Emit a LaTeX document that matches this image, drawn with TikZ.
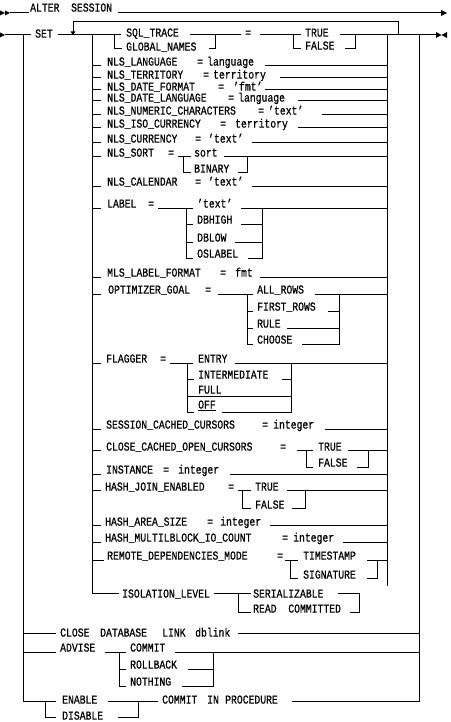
\documentclass[tikz,border=0pt]{standalone}
\usepackage{fontspec}
\usepackage{graphicx}
\newfontfamily\rrfont{Liberation Mono}[FakeBold=0.8]
\newcommand\tx[4]{\node[txt] (#1) at (#2,#3+3.6) {\scalebox{1}[1.25]{#4}};}
\newcommand\railH[3]{\draw[rail] (#2,#1) -- (#3,#1);}
\newcommand\railV[3]{\draw[rail] (#1,#2) -- (#1,#3);}
\begin{document}
\begin{tikzpicture}[x=1pt,y=-1pt,
  rail/.style={line width=1pt,line cap=rect},
  txt/.style={anchor=base west,inner sep=0pt,font={\rrfont\fontsize{9.75pt}{10pt}\selectfont}},
  tip/.style={fill=black,draw=none}]
\fill[white] (0,0) rectangle (450,722);
\useasboundingbox (0,0) rectangle (450,722);
% ---- ALTER SESSION
\fill[tip] (0,10.5)--(5,13)--(0,15.5)--cycle;
\fill[tip] (5,10.5)--(10,13)--(5,15.5)--cycle;
\railH{13}{10}{28}
\tx{alter}{30}{8}{ALTER\ \ SESSION}
\railH{13}{118}{441}
\fill[tip] (441,10)--(447,13)--(441,16)--cycle;
% ---- SET row
\fill[tip] (0,32.5)--(5,35)--(0,37.5)--cycle;
\railH{35}{5}{30}
\tx{set}{35}{34}{SET}
\railH{35}{58}{120}
\railV{23}{35}{701}
\railV{92}{35}{593}
\railV{73}{22}{32}
\fill[tip] (70.5,31.5)--(75.5,31.5)--(73,35)--cycle;
\railH{22}{73}{398}
\railV{398}{22}{35}
\tx{sqltrace}{126}{33}{SQL\_TRACE}
\railH{35}{190}{240}
\tx{eqA}{245}{33}{=}
\railH{35}{260}{300}
\tx{trueA}{305}{33}{TRUE}
\railH{35}{340}{436}
\fill[tip] (436,32)--(441.5,35)--(436,38)--cycle;
\fill[tip] (447,32)--(441.5,35)--(447,38)--cycle;
\railV{114}{35}{49}\railH{49}{114}{121}
\tx{globalnames}{126}{47}{GLOBAL\_NAMES}
\railH{49}{209}{215}\railV{215}{35}{49}
\railV{293}{35}{49}\railH{49}{293}{300}
\tx{falseA}{305}{46}{FALSE}
\railH{49}{345}{355}\railV{355}{35}{49}
\railV{387}{35}{585}
\railV{419}{35}{701}
% ---- NLS rows
\railH{66}{92}{100}\tx{nlslang}{107}{62}{NLS\_LANGUAGE}\tx{eqB}{197}{62}{=}\tx{language}{207}{62}{language}\railH{66}{265}{387}
\railH{78}{92}{100}\tx{nlsterr}{107}{75}{NLS\_TERRITORY}\tx{eqC}{203}{75}{=}\tx{territory}{213}{75}{territory}\railH{78}{280}{387}
\railH{90}{92}{100}\tx{nlsdf}{107}{87}{NLS\_DATE\_FORMAT}\tx{eqD}{218}{87}{=}\tx{fmtA}{233}{87}{’fmt’}\railH{90}{265}{387}
\railH{101}{92}{100}\tx{nlsdl}{107}{98}{NLS\_DATE\_LANGUAGE}\tx{eqE}{228}{98}{=}\tx{languageB}{238}{98}{language}\railH{101}{298}{387}
\railH{115}{92}{100}\tx{nlsnum}{107}{111}{NLS\_NUMERIC\_CHARACTERS}\tx{eqF}{258}{111}{=}\tx{textA}{268}{111}{’text’}\railH{115}{322}{387}
\railH{128}{92}{100}\tx{nlsiso}{107}{124}{NLS\_ISO\_CURRENCY}\tx{eqG}{220}{124}{=}\tx{territoryB}{235}{124}{territory}\railH{128}{298}{387}
\railH{143}{92}{100}\tx{nlscur}{107}{139}{NLS\_CURRENCY}\tx{eqH}{195}{139}{=}\tx{textB}{208}{139}{’text’}\railH{143}{252}{387}
% NLS_SORT
\railH{157}{92}{100}\tx{nlssort}{107}{153}{NLS\_SORT}\tx{eqI}{168}{153}{=}\railH{157}{178}{190}
\railV{183}{157}{173}\tx{sort}{194}{153}{sort}\railH{157}{224}{387}
\railH{173}{183}{190}\tx{binary}{194}{169}{BINARY}\railH{173}{238}{247}\railV{247}{157}{173}
\railH{186}{92}{100}\tx{nlscal}{107}{182}{NLS\_CALENDAR}\tx{eqJ}{195}{182}{=}\tx{textC}{208}{182}{’text’}\railH{186}{252}{387}
% LABEL
\railH{208}{92}{100}\tx{label}{107}{204}{LABEL}\tx{eqK}{148}{204}{=}\railH{208}{158}{192}
\railV{186}{208}{258}\tx{textD}{197}{204}{’text’}\railH{208}{241}{387}
\railH{224}{186}{192}\tx{dbhigh}{197}{220}{DBHIGH}\railH{224}{241}{262}
\railH{242}{186}{192}\tx{dblow}{197}{238}{DBLOW}\railH{242}{235}{262}
\railH{258}{186}{192}\tx{oslabel}{197}{254}{OSLABEL}\railH{258}{248}{262}
\railV{262}{208}{258}
\railH{277}{92}{100}\tx{mls}{107}{273}{MLS\_LABEL\_FORMAT}\tx{eqL}{220}{273}{=}\tx{fmtB}{235}{273}{fmt}\railH{277}{260}{387}
% OPTIMIZER_GOAL
\railH{294}{92}{100}\tx{optgoal}{108}{290}{OPTIMIZER\_GOAL}\tx{eqM}{205}{290}{=}\railH{294}{218}{252}
\railV{247}{294}{344}\tx{allrows}{257}{290}{ALL\_ROWS}\railH{294}{315}{387}
\railH{311}{247}{252}\tx{firstrows}{257}{307}{FIRST\_ROWS}\railH{311}{328}{339}
\railH{328}{247}{252}\tx{rule}{257}{324}{RULE}\railH{328}{287}{339}
\railH{344}{247}{252}\tx{choose}{257}{340}{CHOOSE}\railH{344}{302}{339}
\railV{339}{294}{344}
% FLAGGER
\railH{363}{92}{100}\tx{flagger}{106}{359}{FLAGGER}\tx{eqN}{160}{359}{=}\railH{363}{170}{192}
\railV{187}{363}{412}\tx{entry}{198}{359}{ENTRY}\railH{363}{235}{387}
\railH{379}{187}{193}\tx{intermediate}{198}{375}{INTERMEDIATE}\railH{379}{282}{291}
\tx{full}{198}{390}{FULL}\railH{396}{187}{291}
\railH{412}{187}{193}\tx{off}{198}{405}{\underline{OFF}}\railH{412}{222}{291}
\railV{291}{363}{412}
% SESSION_CACHED_CURSORS
\railH{429}{92}{100}\tx{scc}{106}{425}{SESSION\_CACHED\_CURSORS}\tx{eqO}{262}{425}{=}\tx{integerA}{273}{425}{integer}\railH{429}{325}{387}
% CLOSE_CACHED_OPEN_CURSORS
\railH{450}{92}{100}\tx{ccoc}{106}{447}{CLOSE\_CACHED\_OPEN\_CURSORS}\tx{eqP}{280}{447}{=}\railH{450}{297}{312}
\railV{306}{450}{467}\tx{trueB}{318}{447}{TRUE}\railH{450}{348}{387}
\railH{467}{306}{312}\tx{falseB}{318}{463}{FALSE}\railH{467}{357}{368}\railV{368}{450}{467}
% INSTANCE
\railH{474}{92}{100}\tx{instance}{106}{470}{INSTANCE}\tx{eqQ}{163}{470}{=}\tx{integerB}{178}{470}{integer}\railH{474}{230}{387}
% HASH_JOIN_ENABLED
\railH{490}{92}{100}\tx{hje}{105}{487}{HASH\_JOIN\_ENABLED}\tx{eqR}{228}{487}{=}\railH{490}{238}{250}
\railV{242}{490}{508}\tx{trueC}{255}{487}{TRUE}\railH{490}{287}{387}
\railH{508}{242}{250}\tx{falseC}{255}{505}{FALSE}\railH{508}{292}{305}\railV{305}{490}{508}
\railH{525}{92}{100}\tx{has}{105}{522}{HASH\_AREA\_SIZE}\tx{eqS}{207}{522}{=}\tx{integerC}{220}{522}{integer}\railH{525}{270}{387}
\railH{542}{92}{100}\tx{hmb}{105}{538}{HASH\_MULTILBLOCK\_IO\_COUNT}\tx{eqT}{282}{538}{=}\tx{integerD}{293}{538}{integer}\railH{542}{343}{387}
% REMOTE
\railH{560}{92}{103}\tx{rdm}{107}{556}{REMOTE\_DEPENDENCIES\_MODE}\tx{eqU}{277}{556}{=}\railH{560}{285}{297}
\railV{290}{560}{578}\tx{timestamp}{303}{556}{TIMESTAMP}\railH{560}{367}{387}
\railH{578}{290}{297}\tx{signature}{303}{575}{SIGNATURE}\railH{578}{367}{377}\railV{377}{560}{578}
% ISOLATION_LEVEL
\railH{593}{92}{118}\tx{isolation}{122}{594}{ISOLATION\_LEVEL}\railH{593}{214}{250}
\railV{238}{593}{612}\tx{serializable}{253}{594}{SERIALIZABLE}\railH{593}{338}{359}
\railH{612}{238}{250}\tx{readcommitted}{253}{609}{READ\ \ COMMITTED}\railH{612}{350}{359}\railV{359}{593}{612}
% CLOSE DATABASE LINK
\railH{633}{23}{55}\tx{close}{60}{633}{CLOSE}\tx{database}{100}{633}{DATABASE}\tx{link}{162}{633}{LINK}\tx{dblink}{195}{633}{dblink}\railH{633}{238}{419}
% ADVISE
\railH{652}{23}{55}\tx{advise}{60}{648}{ADVISE}\railH{652}{105}{125}
\railV{119}{652}{686}\tx{commitA}{130}{648}{COMMIT}\railH{652}{175}{419}
\railH{669}{119}{125}\tx{rollback}{130}{665}{ROLLBACK}\railH{669}{188}{213}
\railH{686}{119}{125}\tx{nothing}{130}{682}{NOTHING}\railH{686}{182}{213}
\railV{213}{652}{686}
% ENABLE / DISABLE
\railH{701}{23}{55}\tx{enable}{62}{700}{ENABLE}\railH{701}{108}{157}
\railV{45}{701}{717}\railH{717}{45}{55}\tx{disable}{62}{716}{DISABLE}\railH{717}{118}{138}\railV{138}{701}{717}
\tx{commitB}{162}{700}{COMMIT}\tx{in}{207}{700}{IN}\tx{procedure}{225}{700}{PROCEDURE}\railH{701}{292}{419}
\end{tikzpicture}
\end{document}
